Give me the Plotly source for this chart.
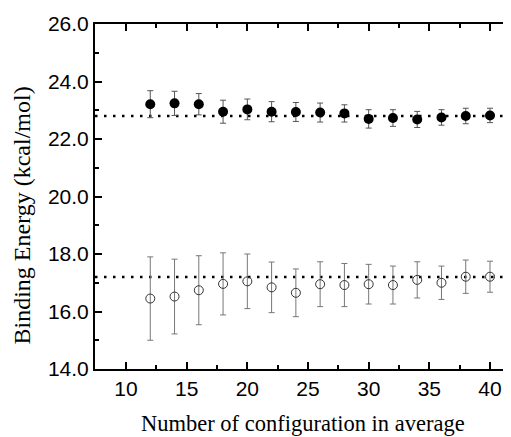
import plotly.graph_objects as go

# number of configurations used in the average
n_conf = [12, 14, 16, 18, 20, 22, 24, 26, 28, 30, 32, 34, 36, 38, 40]

# upper series (filled circles)
e_upper = [23.21, 23.24, 23.21, 22.95, 23.03, 22.95, 22.94, 22.92, 22.89,
           22.70, 22.73, 22.68, 22.75, 22.80, 22.82]
err_upper = [0.47, 0.42, 0.37, 0.40, 0.36, 0.35, 0.33, 0.33, 0.30,
             0.32, 0.29, 0.28, 0.27, 0.27, 0.25]

# lower series (open circles)
e_lower = [16.45, 16.52, 16.74, 16.96, 17.05, 16.84, 16.65, 16.95, 16.92,
           16.95, 16.92, 17.10, 17.00, 17.21, 17.21]
err_lower = [1.45, 1.30, 1.20, 1.08, 0.95, 0.88, 0.83, 0.78, 0.75,
             0.69, 0.66, 0.63, 0.58, 0.58, 0.54]

# converged reference values (dotted lines)
ref_levels = [22.8, 17.2]

y_ticks = [14, 16, 18, 20, 22, 24, 26]

serif = 'Liberation Serif, Times New Roman'

fig = go.Figure()

fig.add_trace(go.Scatter(
    x=n_conf, y=e_upper, mode='markers',
    marker=dict(symbol='circle', size=10, color='black'),
    error_y=dict(type='data', array=err_upper, color='#555555', thickness=1, width=3),
    showlegend=False
))

fig.add_trace(go.Scatter(
    x=n_conf, y=e_lower, mode='markers',
    marker=dict(symbol='circle-open', size=9, color='#333333', line=dict(width=1)),
    error_y=dict(type='data', array=err_lower, color='#777777', thickness=1, width=3),
    showlegend=False
))

# dotted reference lines across the whole plot
for lvl in ref_levels:
    fig.add_shape(type='line', xref='paper', x0=0, x1=1, yref='y', y0=lvl, y1=lvl,
                  line=dict(color='black', width=2.5, dash='2.5px,6.5px'), layer='below')

# axis titles as annotations so they sit where the original has them
fig.add_annotation(text='Number of configuration in average', xref='paper', yref='paper',
                   x=0.5, y=0, xanchor='center', yanchor='middle', yshift=-54,
                   showarrow=False, font=dict(family=serif, size=22.5))
fig.add_annotation(text='Binding Energy (kcal/mol)', xref='paper', yref='paper',
                   x=0, y=0.5, xanchor='center', yanchor='middle', xshift=-74, yshift=-19,
                   textangle=-90, showarrow=False, font=dict(family=serif, size=24))

# page body has an 8px margin, so the figure is 8px smaller than the window
fig.update_layout(
    width=503, height=429,
    margin=dict(l=87, r=0, t=16, b=68),
    plot_bgcolor='white', paper_bgcolor='white',
    font=dict(family='Liberation Sans, Arial', size=21, color='black'),
    xaxis=dict(
        range=[7.445, 41.73], tickvals=[10, 15, 20, 25, 30, 35, 40],
        ticks='inside', ticklen=7, tickwidth=1.5, tickcolor='black',
        minor=dict(tickvals=[12.5, 17.5, 22.5, 27.5, 32.5, 37.5], ticks='inside',
                   ticklen=4, tickcolor='black'),
        showline=True, linecolor='black', linewidth=2, mirror='ticks',
        showgrid=False, zeroline=False,
    ),
    yaxis=dict(
        range=[14, 26], tickvals=y_ticks, tickformat='.1f',
        ticks='inside', ticklen=7, tickwidth=1.5, tickcolor='black',
        minor=dict(tickvals=[15, 17, 19, 21, 23, 25], ticks='inside',
                   ticklen=4, tickcolor='black'),
        showline=True, linecolor='black', linewidth=2, mirror=False,
        showgrid=False, zeroline=False,
    ),
)

fig.write_html("out.html")
